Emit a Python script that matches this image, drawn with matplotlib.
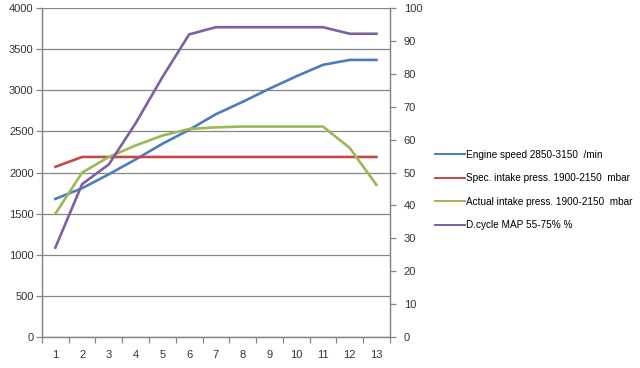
import matplotlib

matplotlib.use("Agg")
import matplotlib.pyplot as plt
from matplotlib.lines import Line2D

plt.rcParams["font.family"] = ["Liberation Sans", "DejaVu Sans"]

# x categories
steps = list(range(1, 14))

# left axis (min^-1 / mbar)
engine_speed = [1680, 1810, 1980, 2160, 2350, 2520, 2710, 2860, 3020, 3170, 3310, 3370, 3370]
spec_intake = [2070, 2190, 2190, 2190, 2190, 2190, 2190, 2190, 2190, 2190, 2190, 2190, 2190]
actual_intake = [1500, 2000, 2190, 2330, 2450, 2530, 2550, 2560, 2560, 2560, 2560, 2300, 1850]
# right axis (%)
duty_cycle = [27.2, 46.5, 52.5, 65, 79, 92, 94.2, 94.2, 94.2, 94.2, 94.2, 92.2, 92.2]

labels = [
    "Engine speed 2850-3150  /min",
    "Spec. intake press. 1900-2150  mbar",
    "Actual intake press. 1900-2150  mbar",
    "D.cycle MAP 55-75% %",
]
colors = ["#4a7ebb", "#be4b48", "#98b954", "#7d60a0"]
axis_gray = "#868686"

fig = plt.figure(figsize=(6.4, 3.68), dpi=100, facecolor="white")
ax = fig.add_axes([0.0656, 0.084, 0.5435, 0.894])
ax2 = ax.twinx()

ax.plot(steps, engine_speed, color=colors[0], linewidth=1.9, zorder=3)
ax.plot(steps, spec_intake, color=colors[1], linewidth=1.9, zorder=3)
ax.plot(steps, actual_intake, color=colors[2], linewidth=1.9, zorder=3)
ax2.plot(steps, duty_cycle, color=colors[3], linewidth=1.9, zorder=3)

ax.set_xlim(0.5, 13.5)
ax.set_ylim(0, 4000)
ax2.set_ylim(0, 100)
ax.set_yticks(range(0, 4001, 500))
ax2.set_yticks(range(0, 101, 10))
ax.set_xticks(steps)
ax.set_xticks([s + 0.5 for s in range(0, 14)], minor=True)

ax.grid(axis="y", color=axis_gray, linewidth=0.9)
ax.set_axisbelow(True)

for a in (ax, ax2):
    a.spines["top"].set_visible(False)
    for side in ("left", "right", "bottom"):
        a.spines[side].set_color(axis_gray)
        a.spines[side].set_linewidth(0.9)
    a.tick_params(labelsize=8, colors="#333333", width=0.9, length=4)
    a.tick_params(axis="y", color=axis_gray)

ax.tick_params(axis="x", which="major", length=0, pad=9)
ax.tick_params(axis="x", which="minor", length=4, color=axis_gray, width=0.9)
ax.tick_params(axis="y", pad=2)
ax2.tick_params(axis="y", pad=6)

handles = [Line2D([0], [0], color=c, linewidth=1.4) for c in colors]
fig.legend(
    handles,
    labels,
    loc="upper left",
    bbox_to_anchor=(0.665, 0.617),
    frameon=False,
    fontsize=7.2,
    handlelength=3.0,
    handletextpad=0.15,
    labelspacing=1.35,
)

fig.savefig("out.png", dpi=100, facecolor="white")
